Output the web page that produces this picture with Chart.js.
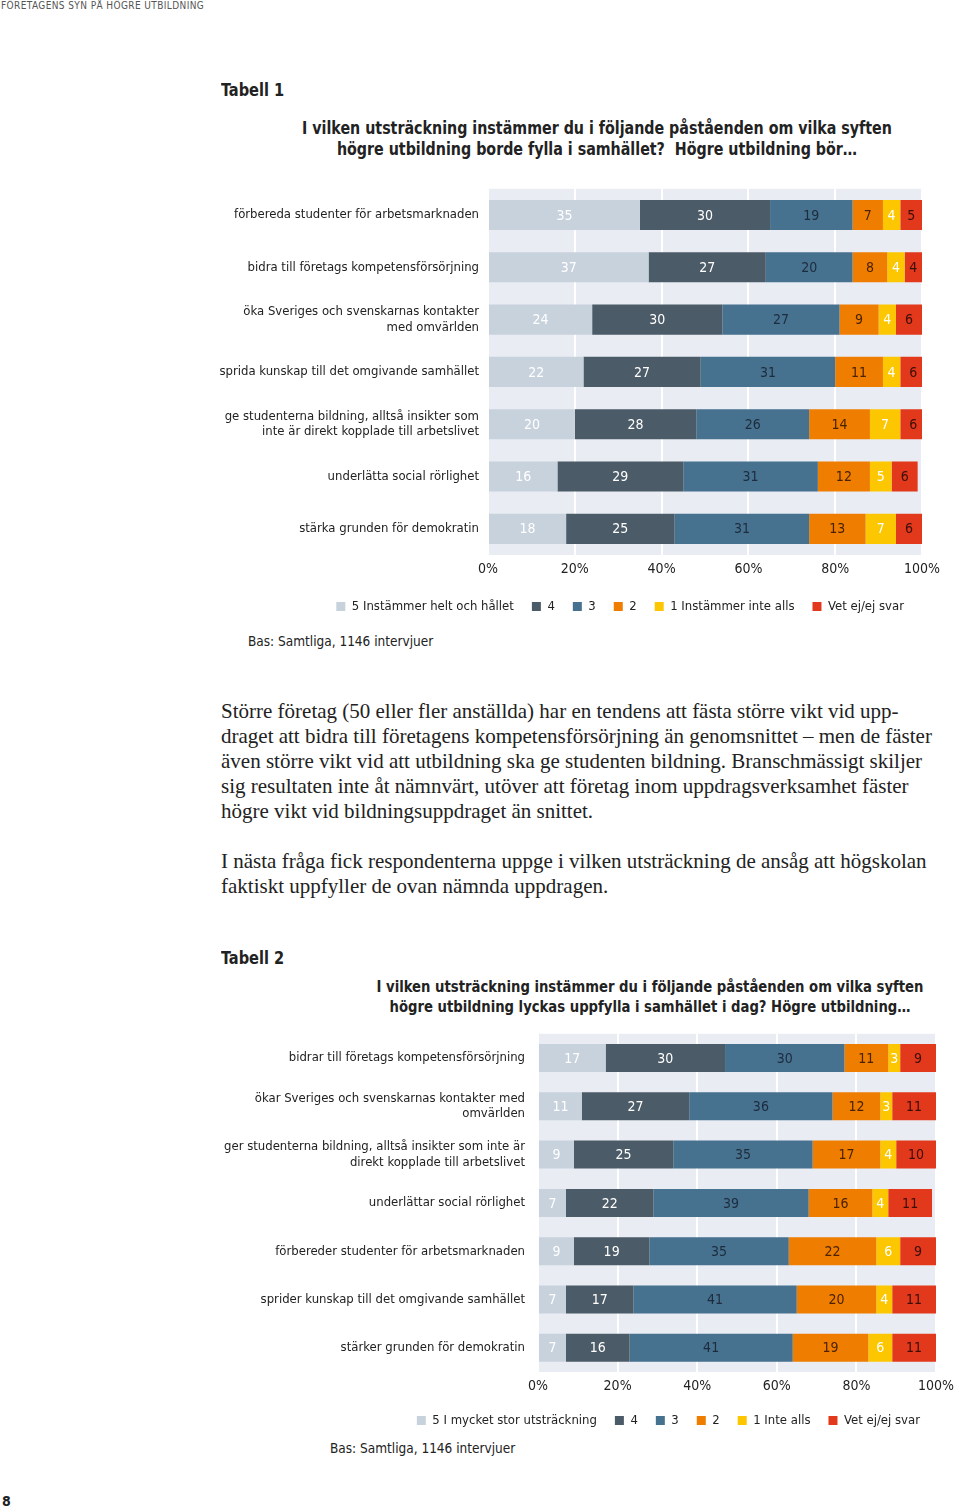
<!DOCTYPE html>
<html>
<head>
<meta charset="utf-8">
<script src="https://cdn.jsdelivr.net/npm/chart.js@4/dist/chart.umd.min.js"></script>
<style>
  body { margin: 0; background: #fff; width: 960px; height: 1509px; position: relative; overflow: hidden;
         font-family: 'DejaVu Sans Condensed', 'Liberation Sans Narrow', Roboto, sans-serif; color: #222; }
  .abs { position: absolute; white-space: nowrap; }
  .head { left: 1px; top: 0; font-size: 10px; color: #555; letter-spacing: 0.4px; line-height: 12px; }
  .tab { left: 221px; font-size: 18px; font-weight: bold; line-height: 22px; transform: scaleX(0.9); transform-origin: left center; }
  .q { font-weight: bold; text-align: center; transform-origin: center center; }
  .bas { font-size: 13.5px; line-height: 16px; color: #222; }
  .para { left: 221px; font-family: 'Liberation Serif', 'DejaVu Serif', serif; font-size: 21px; line-height: 25px; color: #222; }
  canvas { position: absolute; left: 0; }
</style>
</head>
<body>
<div class="abs head">FÖRETAGENS SYN PÅ HÖGRE UTBILDNING</div>
<div class="abs tab" style="top:79px">Tabell 1</div>
<div class="abs q" style="left:197px; width:800px; top:117px; font-size:18px; line-height:21px; transform:scaleX(0.88)">I vilken utsträckning instämmer du i följande påståenden om vilka syften<br>högre utbildning borde fylla i samhället?&nbsp; Högre utbildning bör…</div>

<div style="position:absolute; left:0; top:172px; width:960px; height:451px"><canvas id="chart1"></canvas></div>
<div class="abs bas" style="left:248px; top:633px">Bas: Samtliga, 1146 intervjuer</div>

<div class="abs para" style="top:699px">Större företag (50 eller fler anställda) har en tendens att fästa större vikt vid upp-<br>draget att bidra till företagens kompetensförsörjning än genomsnittet – men de fäster<br>även större vikt vid att utbildning ska ge studenten bildning. Branschmässigt skiljer<br>sig resultaten inte åt nämnvärt, utöver att företag inom uppdragsverksamhet fäster<br>högre vikt vid bildningsuppdraget än snittet.</div>
<div class="abs para" style="top:849px">I nästa fråga fick respondenterna uppge i vilken utsträckning de ansåg att högskolan<br>faktiskt uppfyller de ovan nämnda uppdragen.</div>

<div class="abs tab" style="top:947px">Tabell 2</div>
<div class="abs q" style="left:250px; width:800px; top:977px; font-size:16.5px; line-height:20px; transform:scaleX(0.89)">I vilken utsträckning instämmer du i följande påståenden om vilka syften<br>högre utbildning lyckas uppfylla i samhället i dag? Högre utbildning…</div>

<div style="position:absolute; left:0; top:1013px; width:960px; height:424px"><canvas id="chart2"></canvas></div>
<div class="abs bas" style="left:330px; top:1440px">Bas: Samtliga, 1146 intervjuer</div>
<div class="abs" style="left:2px; top:1493px; font-size:14px; font-weight:bold">8</div>

<script>
// Tabell 1
var categories1 = [
    'förbereda studenter för arbetsmarknaden',
    'bidra till företags kompetensförsörjning',
    ['öka Sveriges och svenskarnas kontakter', 'med omvärlden'],
    'sprida kunskap till det omgivande samhället',
    ['ge studenterna bildning, alltså insikter som', 'inte är direkt kopplade till arbetslivet'],
    'underlätta social rörlighet',
    'stärka grunden för demokratin'
];
var seriesNames1 = ['5 Instämmer helt och hållet', '4', '3', '2', '1 Instämmer inte alls', 'Vet ej/ej svar'];
var t1_5 = [35, 37, 24, 22, 20, 16, 18];
var t1_4 = [30, 27, 30, 27, 28, 29, 25];
var t1_3 = [19, 20, 27, 31, 26, 31, 31];
var t1_2 = [7, 8, 9, 11, 14, 12, 13];
var t1_1 = [4, 4, 4, 4, 7, 5, 7];
var t1_vet = [5, 4, 6, 6, 6, 6, 6];

// Tabell 2
var categories2 = [
    'bidrar till företags kompetensförsörjning',
    ['ökar Sveriges och svenskarnas kontakter med', 'omvärlden'],
    ['ger studenterna bildning, alltså insikter som inte är', 'direkt kopplade till arbetslivet'],
    'underlättar social rörlighet',
    'förbereder studenter för arbetsmarknaden',
    'sprider kunskap till det omgivande samhället',
    'stärker grunden för demokratin'
];
var seriesNames2 = ['5 I mycket stor utsträckning', '4', '3', '2', '1 Inte alls', 'Vet ej/ej svar'];
var t2_5 = [17, 11, 9, 7, 9, 7, 7];
var t2_4 = [30, 27, 25, 22, 19, 17, 16];
var t2_3 = [30, 36, 35, 39, 35, 41, 41];
var t2_2 = [11, 12, 17, 16, 22, 20, 19];
var t2_1 = [3, 3, 4, 4, 6, 4, 6];
var t2_vet = [9, 11, 10, 11, 9, 11, 11];

var xTicks = [0, 20, 40, 60, 80, 100];

var fillColors = ['#c8d2dd', '#4b5b67', '#46718f', '#ee7d00', '#fcc600', '#e2381b'];
var textColors = ['#ffffff', '#ffffff', '#1d2c3d', '#4a2200', '#ffffff', '#3a0f08'];

var fontStack = "'DejaVu Sans Condensed', 'Liberation Sans Narrow', Roboto, sans-serif";
Chart.defaults.font.family = fontStack;
Chart.defaults.font.size = 14;
Chart.defaults.color = '#222';

// light panel behind the bars
var plotBg = {
    id: 'plotBg',
    beforeDraw: function (chart) {
        var a = chart.chartArea, ctx = chart.ctx;
        ctx.save();
        ctx.fillStyle = '#e9ecf3';
        ctx.fillRect(a.left, a.top, a.right - a.left, a.bottom - a.top);
        ctx.restore();
    }
};

// numbers in the middle of each segment
var segLabels = {
    id: 'segLabels',
    afterDatasetsDraw: function (chart) {
        var ctx = chart.ctx;
        ctx.save();
        ctx.font = '14px ' + fontStack;
        ctx.textAlign = 'center';
        ctx.textBaseline = 'middle';
        chart.data.datasets.forEach(function (ds, i) {
            var meta = chart.getDatasetMeta(i);
            meta.data.forEach(function (bar, j) {
                var p = bar.getProps(['x', 'y', 'base'], true);
                ctx.fillStyle = textColors[i];
                ctx.fillText(ds.data[j], (p.x + p.base) / 2, p.y + 1);
            });
        });
        ctx.restore();
    }
};

function makeChart(id, labels, names, series, opt) {
    var datasets = series.map(function (vals, i) {
        return {
            label: names[i],
            data: vals,
            backgroundColor: fillColors[i],
            borderWidth: 0,
            barPercentage: opt.barPct,
            categoryPercentage: 1
        };
    });
    return new Chart(document.getElementById(id), {
        type: 'bar',
        data: { labels: labels, datasets: datasets },
        plugins: [plotBg, segLabels],
        options: {
            indexAxis: 'y',
            responsive: true,
            maintainAspectRatio: false,
            animation: false,
            layout: { padding: { top: opt.padTop, right: opt.padRight, bottom: 0, left: 0 } },
            plugins: {
                legend: {
                    position: 'bottom',
                    align: 'end',
                    labels: { boxWidth: 9, boxHeight: 9, padding: 18, color: '#222', font: { size: 13 } }
                },
                tooltip: { enabled: false }
            },
            scales: {
                x: {
                    stacked: true,
                    min: 0,
                    max: 100,
                    afterBuildTicks: function (scale) {
                        scale.ticks = xTicks.map(function (v) { return { value: v }; });
                    },
                    ticks: { padding: 6, color: '#222', callback: function (v) { return v + '%'; } },
                    grid: { color: '#ffffff', lineWidth: 2, drawTicks: false },
                    border: { display: false },
                    afterFit: function (scale) { scale.height = opt.xHeight; }
                },
                y: {
                    stacked: true,
                    ticks: { padding: opt.yPad, color: '#222', font: { size: 13, lineHeight: 1.2 } },
                    grid: { display: false, drawTicks: false },
                    border: { display: false },
                    afterFit: function (scale) { scale.width = opt.yWidth; }
                }
            }
        }
    });
}

makeChart('chart1', categories1, seriesNames1, [t1_5, t1_4, t1_3, t1_2, t1_1, t1_vet], {
    barPct: 0.575, padTop: 0.5, padRight: 38, yWidth: 488, yPad: 9, xHeight: 27
});
makeChart('chart2', categories2, seriesNames2, [t2_5, t2_4, t2_3, t2_2, t2_1, t2_vet], {
    barPct: 0.58, padTop: 1.5, padRight: 22, yWidth: 538, yPad: 13, xHeight: 24
});
</script>
</body>
</html>
